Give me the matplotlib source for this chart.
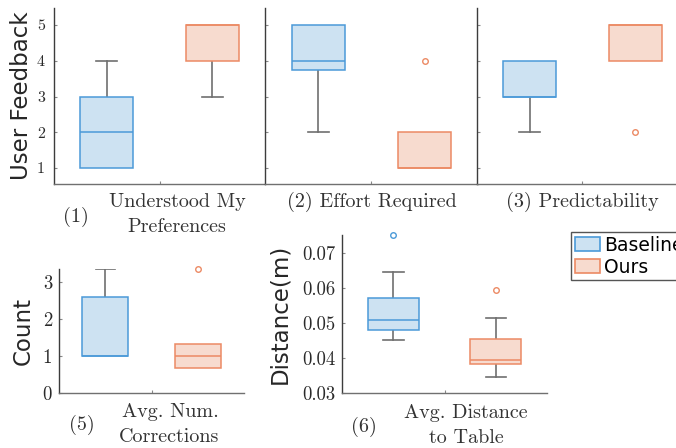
import matplotlib
matplotlib.use("Agg")
import matplotlib.pyplot as plt
from matplotlib.patches import Patch

# ---- data: box statistics per panel, [Baseline, Ours] ----
groups = ["Baseline", "Ours"]

p1_whislo = [1, 3];    p1_q1 = [1, 4];    p1_med = [2, 5];    p1_q3 = [3, 5];    p1_whishi = [4, 5];    p1_fliers = [[], []]
p2_whislo = [2, 1];    p2_q1 = [3.75, 1]; p2_med = [4, 1];    p2_q3 = [5, 2];    p2_whishi = [5, 2];    p2_fliers = [[], [4]]
p3_whislo = [2, 4];    p3_q1 = [3, 4];    p3_med = [3, 5];    p3_q3 = [4, 5];    p3_whishi = [4, 5];    p3_fliers = [[], [2]]
p5_whislo = [1, 0.67]; p5_q1 = [1, 0.67]; p5_med = [1, 1];    p5_q3 = [2.58, 1.33]; p5_whishi = [3.33, 1.33]; p5_fliers = [[], [3.33]]
p6_whislo = [0.0452, 0.0347]; p6_q1 = [0.0480, 0.0383]; p6_med = [0.0509, 0.0395]
p6_q3 = [0.0573, 0.0455]; p6_whishi = [0.0646, 0.0515]; p6_fliers = [[0.0752], [0.0596]]

top_yticks = [1, 2, 3, 4, 5]
count_yticks = [0, 1, 2, 3]
dist_yticks = [0.03, 0.04, 0.05, 0.06, 0.07]
dist_ticklabels = ["0.03", "0.04", "0.05", "0.06", "0.07"]

# ---- styling ----
edge_cols = ["#4b9ad8", "#ec8a64"]
face_cols = ["#cde2f2", "#f7dbcf"]
whisk_col = "#6f6f6f"
serif = "cmr10"
W, H = 676, 448

fig = plt.figure(figsize=(W / 100, H / 100), dpi=100)


def px_axes(left, top, right, bottom):
    return fig.add_axes([left / W, 1 - bottom / H, (right - left) / W, (bottom - top) / H])


def draw_boxes(ax, whislo, q1, med, q3, whishi, fliers):
    for i in range(2):
        st = [dict(whislo=whislo[i], q1=q1[i], med=med[i], q3=q3[i],
                   whishi=whishi[i], fliers=fliers[i])]
        arts = ax.bxp(st, positions=[i + 1], widths=0.5, patch_artist=True,
                      boxprops=dict(facecolor=face_cols[i], edgecolor=edge_cols[i], linewidth=1.1),
                      medianprops=dict(color=edge_cols[i], linewidth=1.1),
                      whiskerprops=dict(color=whisk_col, linewidth=1.2),
                      capprops=dict(color=whisk_col, linewidth=1.2),
                      capwidths=0.2,
                      flierprops=dict(marker="o", markerfacecolor="none", markeredgecolor=edge_cols[i],
                                      markersize=4, markeredgewidth=1.0),
                      manage_ticks=False)
        # a whisker of zero length is not drawn at all
        lo_w, hi_w = arts["whiskers"]
        lo_c, hi_c = arts["caps"]
        if whislo[i] >= q1[i]:
            lo_w.set_visible(False)
            lo_c.set_visible(False)
        if whishi[i] <= q3[i]:
            hi_w.set_visible(False)
            hi_c.set_visible(False)
        for a in arts["boxes"]:
            a.set_zorder(3)
        for a in arts["medians"] + arts["fliers"]:
            a.set_zorder(4)
        for a in arts["fliers"]:
            a.set_clip_on(False)
    ax.set_xlim(0.5, 2.5)
    ax.set_xticks([1.5])
    ax.set_xticklabels([""])
    for s in ["top", "right"]:
        ax.spines[s].set_visible(False)
    ax.spines["left"].set_color("#3c3c3c")
    ax.spines["bottom"].set_color("#707070")
    for s in ["left", "bottom"]:
        ax.spines[s].set_linewidth(1.0)
    ax.tick_params(direction="in", length=2.5, color="#888888", width=0.8)


def style_ticklabels(ax, size, pad):
    ax.tick_params(axis="y", labelsize=size, pad=pad, labelcolor="#2a2a2a")
    for t in ax.get_yticklabels():
        t.set_fontfamily(serif)


# top row
ax1 = px_axes(54, 8, 265, 184)
ax2 = px_axes(265, 8, 478, 184)
ax3 = px_axes(477, 8, 688, 184)
for ax, d in [(ax1, (p1_whislo, p1_q1, p1_med, p1_q3, p1_whishi, p1_fliers)),
              (ax2, (p2_whislo, p2_q1, p2_med, p2_q3, p2_whishi, p2_fliers)),
              (ax3, (p3_whislo, p3_q1, p3_med, p3_q3, p3_whishi, p3_fliers))]:
    draw_boxes(ax, *d)
    ax.set_ylim(0.55, 5.48)
    ax.set_yticks(top_yticks)
ax1.set_yticklabels([str(v) for v in top_yticks])
style_ticklabels(ax1, 11.5, 6.5)
ax2.set_yticklabels([])
ax3.set_yticklabels([])

# bottom row
ax5 = px_axes(59, 269, 244, 393)
draw_boxes(ax5, p5_whislo, p5_q1, p5_med, p5_q3, p5_whishi, p5_fliers)
ax5.set_ylim(0, 3.34)
ax5.set_yticks(count_yticks)
ax5.set_yticklabels([str(v) for v in count_yticks])
style_ticklabels(ax5, 13.5, 5)

ax6 = px_axes(342, 235, 547, 393)
draw_boxes(ax6, p6_whislo, p6_q1, p6_med, p6_q3, p6_whishi, p6_fliers)
ax6.set_ylim(0.03, 0.0752)
ax6.set_yticks(dist_yticks)
ax6.set_yticklabels(dist_ticklabels)
style_ticklabels(ax6, 13.5, 5)

# y axis titles
def ylab(x, y, s):
    fig.text(x / W, 1 - y / H, s, rotation=90, ha="center", va="center",
             fontsize=16.5, color="#262626", family="DejaVu Sans")

ylab(22, 96, "User Feedback")
ylab(23, 331, "Count")
ylab(280, 314, "Distance(m)")

# panel captions
def cap(x, y, s):
    fig.text(x / W, 1 - y / H, s, ha="center", va="center", fontsize=14.5,
             color="#333333", family=serif)

cap(76, 217, "(1)")
cap(177, 202, "Understood My")
cap(177, 227, "Preferences")
cap(371.5, 202, "(2) Effort Required")
cap(582.5, 202, "(3) Predictability")
cap(82, 425, "(5)")
cap(170, 412, "Avg. Num.")
cap(169, 437, "Corrections")
cap(364, 427, "(6)")
cap(466, 413, "Avg. Distance")
cap(466, 438, "to Table")

# legend
handles = [Patch(facecolor=face_cols[i], edgecolor=edge_cols[i], linewidth=1.2, label=groups[i])
           for i in range(2)]
leg = fig.legend(handles=handles, loc="upper left", bbox_to_anchor=(571 / W, 1 - 232 / H),
                 fontsize=13.5, frameon=True, fancybox=False, framealpha=1,
                 edgecolor="#555555", borderpad=0.2, borderaxespad=0, handlelength=1.35,
                 handleheight=0.8, handletextpad=0.2, labelspacing=0.15)
leg.get_frame().set_linewidth(1.0)

fig.savefig("out.png", dpi=100)
